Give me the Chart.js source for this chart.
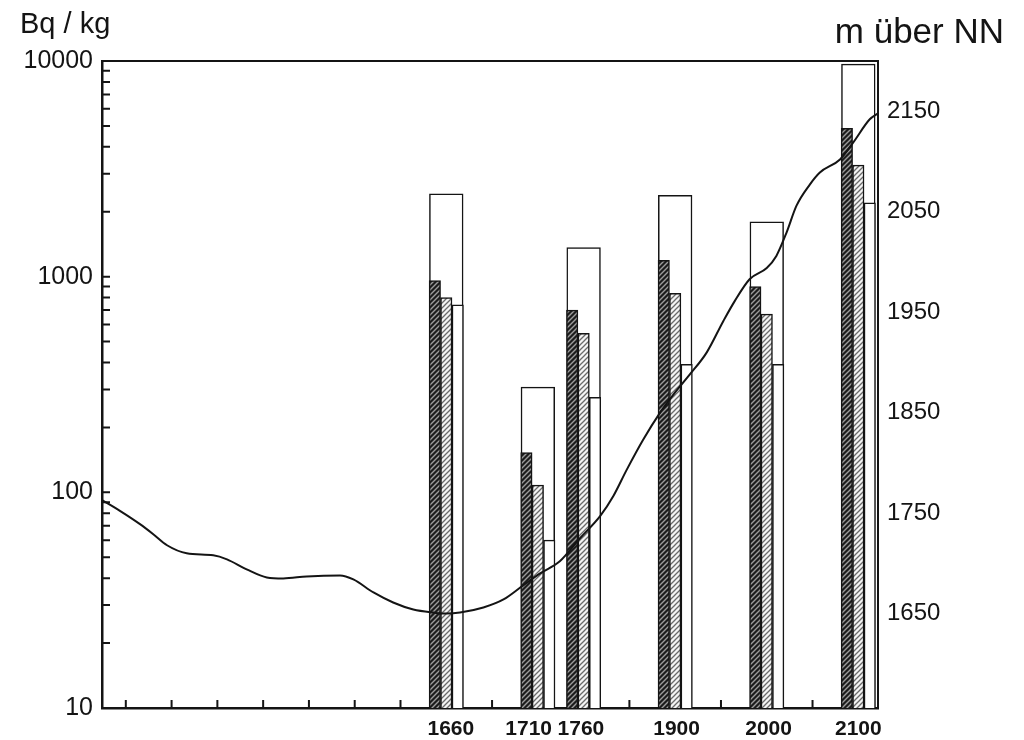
<!DOCTYPE html>
<html>
<head>
<meta charset="utf-8">
<script src="https://cdn.jsdelivr.net/npm/chart.js@4.4.1/dist/chart.umd.min.js"></script>
<style>
  html, body { margin: 0; padding: 0; background: #fff; }
  #wrap { width: 1024px; height: 740px; }
</style>
</head>
<body>
<div id="wrap"><canvas id="c" width="1024" height="740"></canvas></div>
<script>
// Sampling sites along the profile (position on the distance axis) and their altitude labels
const elevationLabels = ['1660', '1710', '1760', '1900', '2000', '2100'];
const sitePositions = [7, 9, 10, 12, 14, 16];

// Activity per site, Bq/kg
const outlineTotals = [2430, 309, 1370, 2390, 1800, 9700];
const darkHatched   = [960, 153, 700, 1190, 900, 4870];
const lightHatched  = [800, 108, 546, 837, 670, 3290];
const openBars      = [740, 60, 276, 392, 392, 2200];

// Terrain profile: distance position and altitude (m über NN)
const profileX = [-0.52, -0.12, 0.31, 0.60, 0.90, 1.33, 1.91, 2.21, 2.64, 3.08, 3.44, 3.95,
  4.68, 4.97, 5.41, 5.84, 6.28, 6.72, 7.00, 7.30, 7.81, 8.25, 8.65, 9.05, 9.48, 9.92, 10.36,
  10.65, 10.94, 11.30, 11.67, 11.96, 12.32, 12.69, 13.05, 13.30, 13.63, 14.00, 14.21, 14.43,
  14.65, 14.94, 15.16, 15.60, 15.89, 16.25, 16.43];
const profileHeight = [1763, 1752, 1739, 1729, 1718, 1710, 1708, 1704, 1694, 1686, 1685, 1687,
  1688, 1684, 1671, 1661, 1654, 1651, 1650, 1651, 1656, 1664, 1677, 1690, 1702, 1725, 1747,
  1767, 1793, 1823, 1850, 1868, 1888, 1910, 1941, 1961, 1983, 1994, 2006, 2029,
  2056, 2077, 2089, 2102, 2119, 2142, 2148];

// Axis tick labels
const leftAxisLabels = [10, 100, 1000, 10000];
const rightAxisLabels = [1650, 1750, 1850, 1950, 2050, 2150];

const INK = '#141414';
const FONT = "'Liberation Sans', Arial, Helvetica, sans-serif";
Chart.defaults.font.family = FONT;
Chart.defaults.color = INK;

const canvas = document.getElementById('c');
const ctx = canvas.getContext('2d');

// Diagonal hatch fill for the bars
function hatch(bg, fg, lw) {
  const s = 5;
  const t = document.createElement('canvas');
  t.width = s; t.height = s;
  const g = t.getContext('2d');
  g.fillStyle = bg;
  g.fillRect(0, 0, s, s);
  g.strokeStyle = fg;
  g.lineWidth = lw;
  g.beginPath();
  g.moveTo(-1, s + 1); g.lineTo(s + 1, -1);
  g.moveTo(-1, 1); g.lineTo(1, -1);
  g.moveTo(s - 1, s + 1); g.lineTo(s + 1, s - 1);
  g.stroke();
  return ctx.createPattern(t, 'repeat');
}
const darkFill = hatch('#1c1c1c', '#9c9c9c', 1.4);
const lightFill = hatch('#f4f4f4', '#6a6a6a', 1.3);

const SUB = 0.25; // spacing between the three bars of a site, in axis units
const xMin = -0.52, xMax = 16.43;
// small horizontal nudges so neighbouring site labels do not collide
const labelNudge = [0.1, -0.2, -0.06, 0.03, 0.04, 0];

const toPoints = (vals, shift) => sitePositions.map((p, i) => ({ x: p + shift, y: vals[i] }));

// Inward tick marks on the left and bottom axes
const innerTicks = {
  id: 'innerTicks',
  beforeDatasetsDraw(chart) {
    const { ctx: c, chartArea: a, scales: { x, y } } = chart;
    c.save();
    c.strokeStyle = INK;
    c.lineWidth = 2;
    c.beginPath();
    y.ticks.forEach(t => {
      const py = y.getPixelForValue(t.value);
      c.moveTo(a.left, py); c.lineTo(a.left + 8, py);
    });
    for (let u = Math.ceil(x.min); u <= Math.floor(x.max); u++) {
      const px = x.getPixelForValue(u);
      c.moveTo(px, a.bottom); c.lineTo(px, a.bottom - 8);
    }
    c.stroke();
    c.restore();
  }
};

// Unit headings above both value axes
const headings = {
  id: 'headings',
  afterDraw(chart) {
    const c = chart.ctx;
    c.save();
    c.fillStyle = INK;
    c.textBaseline = 'alphabetic';
    c.font = '29px ' + FONT;
    c.textAlign = 'left';
    c.fillText('Bq / kg', 20, 33);
    c.font = '35px ' + FONT;
    c.textAlign = 'right';
    c.fillText('m über NN', 1004, 43);
    c.restore();
  }
};

new Chart(ctx, {
  type: 'bar',
  data: {
    datasets: [
      {
        type: 'line',
        label: 'Höhe',
        data: profileX.map((x, i) => ({ x, y: profileHeight[i] })),
        yAxisID: 'y2',
        borderColor: INK,
        borderWidth: 2,
        pointRadius: 0,
        fill: false,
        cubicInterpolationMode: 'monotone'
      },
      {
        label: 'dunkel',
        data: toPoints(darkHatched, -SUB),
        backgroundColor: darkFill,
        borderColor: INK,
        borderWidth: 1.5,
        grouped: false,
        categoryPercentage: 1,
        barPercentage: 1
      },
      {
        label: 'hell',
        data: toPoints(lightHatched, 0),
        backgroundColor: lightFill,
        borderColor: INK,
        borderWidth: 1.5,
        grouped: false,
        categoryPercentage: 1,
        barPercentage: 1
      },
      {
        label: 'offen',
        data: toPoints(openBars, SUB),
        backgroundColor: '#ffffff',
        borderColor: INK,
        borderWidth: 1.5,
        grouped: false,
        categoryPercentage: 1,
        barPercentage: 1
      },
      {
        label: 'gesamt',
        data: toPoints(outlineTotals, 0),
        backgroundColor: 'rgba(0,0,0,0)',
        borderColor: INK,
        borderWidth: 1.5,
        grouped: false,
        categoryPercentage: 1,
        barPercentage: 3
      }
    ]
  },
  options: {
    responsive: false,
    animation: false,
    devicePixelRatio: 1,
    layout: { padding: { top: 61, left: 0, right: 0, bottom: 0 } },
    plugins: { legend: { display: false }, tooltip: { enabled: false } },
    scales: {
      x: {
        type: 'linear',
        position: 'bottom',
        min: xMin, max: xMax,
        offset: false,
        grid: { display: false, drawTicks: false, offset: false },
        border: { display: true, width: 2.5, color: INK },
        afterBuildTicks(s) { s.ticks = sitePositions.map((v, i) => ({ value: v + labelNudge[i] })); },
        afterFit(s) { s.height = 32; },
        ticks: {
          autoSkip: false, maxRotation: 0, minRotation: 0, padding: 9,
          color: INK,
          font: { size: 21, weight: 'bold' },
          callback: (v, i) => elevationLabels[i]
        }
      },
      xTop: {
        type: 'linear',
        position: 'top',
        min: xMin, max: xMax,
        grid: { display: false, drawTicks: false },
        ticks: { display: false },
        border: { display: true, width: 2, color: INK },
        afterFit(s) { s.height = 0; }
      },
      y: {
        type: 'logarithmic',
        position: 'left',
        min: 10, max: 10000,
        grid: { display: false, drawTicks: false },
        border: { display: true, width: 2.5, color: INK },
        afterBuildTicks(s) {
          const t = [];
          for (let e = 1; e <= 3; e++) for (let k = 1; k <= 9; k++) t.push({ value: k * Math.pow(10, e) });
          t.push({ value: 10000 });
          s.ticks = t;
        },
        afterFit(s) { s.width = 102; },
        ticks: {
          autoSkip: false, padding: 9, color: INK,
          font: { size: 25 },
          callback: v => leftAxisLabels.includes(v) ? String(v) : ''
        }
      },
      y2: {
        type: 'linear',
        position: 'right',
        min: 1556, max: 2200,
        grid: { display: false, drawTicks: false },
        border: { display: true, width: 2, color: INK },
        afterBuildTicks(s) { s.ticks = rightAxisLabels.map(v => ({ value: v })); },
        afterFit(s) { s.width = 146; },
        ticks: {
          autoSkip: false, padding: 9, color: INK,
          font: { size: 24 },
          callback: v => String(v)
        }
      }
    }
  },
  plugins: [innerTicks, headings]
});
</script>
</body>
</html>
